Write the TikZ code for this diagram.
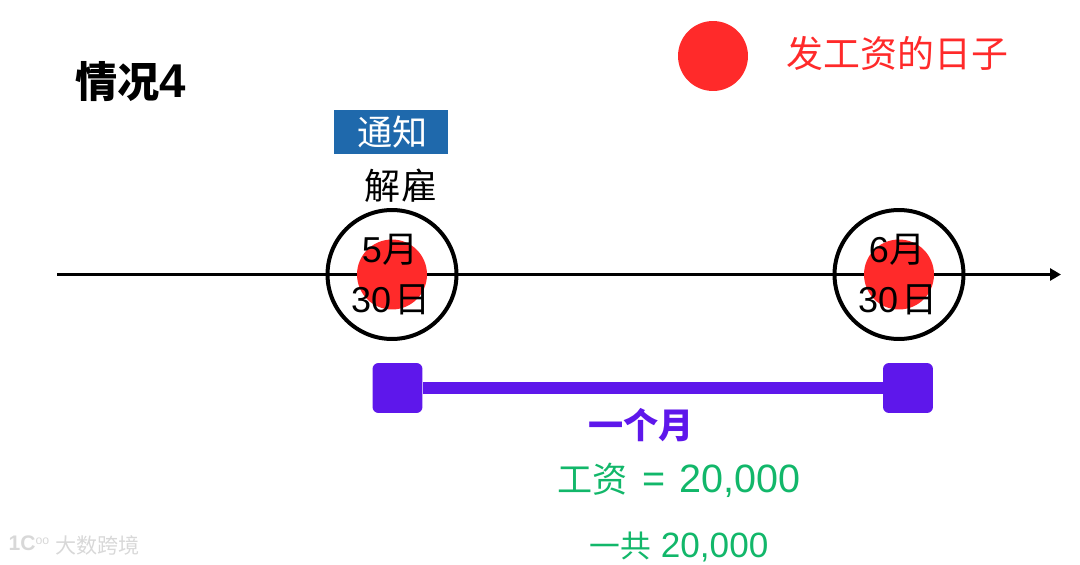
\documentclass[tikz,border=0pt]{standalone}
\usepackage{xcolor}
\usepackage{fontspec}
\usepackage{tikz}
\usetikzlibrary{shapes,arrows,arrows.meta,positioning}
\setmainfont{Liberation Sans}
\newfontfamily\cjk{Noto Sans CJK SC}
\definecolor{payRed}{HTML}{FF2A2A}
\definecolor{noticeBlue}{HTML}{1F69AC}
\definecolor{spanPurple}{HTML}{5E17EB}
\definecolor{payGreen}{HTML}{12B76A}
\definecolor{markGray}{HTML}{D8D8D8}

\begin{document}
\begin{tikzpicture}[
    x=0.02cm, y=-0.02cm,
    align=center,
    paydot/.style = {circle, fill=payRed, minimum size=1.4cm, inner sep=0pt},
    ring/.style = {circle, draw, line width=0.08cm, minimum size=2.58cm, inner sep=0pt},
    datetext/.style = {font=\fontsize{20.5}{22}\selectfont, inner sep=0pt},
    endbox/.style = {rectangle, fill=spanPurple, rounded corners=0.12cm, minimum size=1.0cm, inner sep=0pt},
    greentext/.style = {text=payGreen, inner sep=0pt},
    axisline/.style = {-{Stealth[length=0.22cm,width=0.24cm,inset=0pt]}, line width=0.06cm},
    spanline/.style = {spanPurple, line width=0.24cm}
]
    \useasboundingbox (0,0) rectangle (1080,565);

    % Legend and title
    \node [inner sep=0pt, font=\fontsize{24}{26}\selectfont\bfseries] (title) at (131,82) {{\cjk 情况}{\fontsize{27}{27}\selectfont 4}};
    \node [paydot] (legendDot) at (713,56) {};
    \node [inner sep=0pt, text=payRed, font=\fontsize{21}{23}\selectfont\cjk] (legendText) at (897.5,53) {发工资的日子};

    % Time axis
    \coordinate (axisStart) at (57,274.5);
    \coordinate (axisEnd) at (1061,274.5);
    \draw [axisline] (axisStart) -- (axisEnd);

    \node [paydot] (dotMay) at (392,274.5) {};
    \node [ring] (ringMay) at (392,274.5) {};
    \node [paydot] (dotJune) at (899,274.5) {};
    \node [ring] (ringJune) at (899,274.5) {};

    % Dates
    \node [datetext] (mayMonth) at (390,250) {5{\cjk 月}};
    \node [datetext] (mayDay) at (391,300) {30\kern 2pt{\cjk 日}};
    \node [datetext] (juneMonth) at (897,250) {6{\cjk 月}};
    \node [datetext] (juneDay) at (898,300) {30\kern 2pt{\cjk 日}};

    % Notice
    \node [rectangle, fill=noticeBlue, text=white, minimum width=2.28cm, minimum height=0.88cm, inner sep=0pt, font=\fontsize{20}{22}\selectfont\cjk] (notice) at (391,132) {\kern 2pt 通知};
    \node [inner sep=0pt, font=\fontsize{20.5}{22}\selectfont\cjk] (dismiss) at (401,186) {解雇};

    % One month span
    \node [endbox] (spanStart) at (397.5,388) {};
    \node [endbox] (spanEnd) at (908,388) {};
    \draw [spanline] (spanStart) -- (spanEnd);
    \node [inner sep=0pt, text=spanPurple, font=\fontsize{20}{22}\selectfont\cjk\bfseries] (oneMonth) at (641,425) {一个月};
    \node [greentext, font=\fontsize{22.5}{24}\selectfont] (salary) at (679,480) {{\fontsize{20}{22}\selectfont\cjk 工资}\kern 8pt=\kern 8pt20,000};
    \node [greentext, font=\fontsize{20}{22}\selectfont] (total) at (679,547) {{\fontsize{17.5}{20}\selectfont\cjk 一共} 20,000};

    % Watermark
    \node [inner sep=0pt, text=markGray, font=\fontsize{7}{8}\selectfont] (markLogo) at (29,543) {\textbf{\fontsize{12}{12}\selectfont 1C}\raisebox{0.9ex}{oo}};
    \node [inner sep=0pt, text=markGray, font=\fontsize{12}{13}\selectfont\cjk] (markText) at (97.5,545) {大数跨境};
\end{tikzpicture}
\end{document}
